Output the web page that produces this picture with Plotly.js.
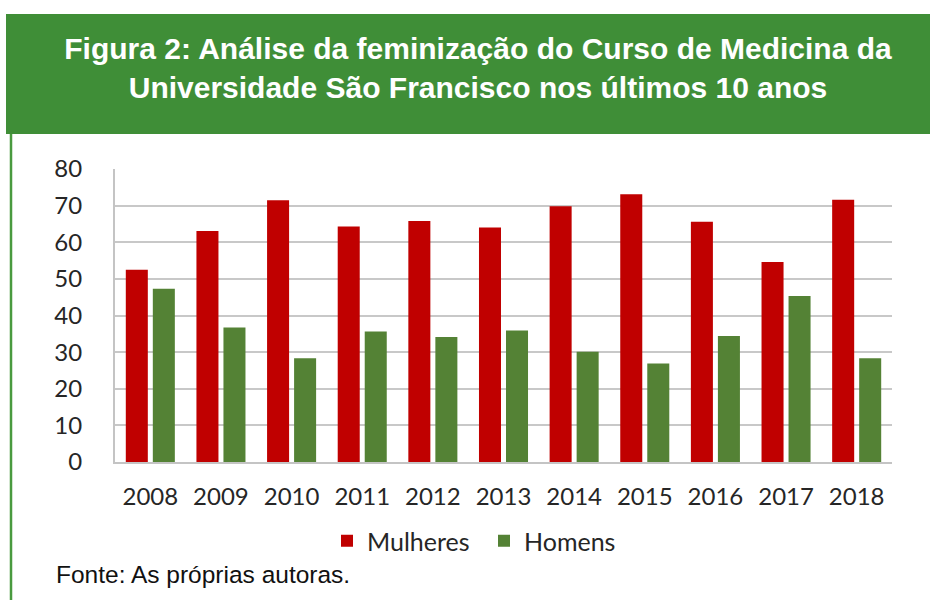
<!DOCTYPE html>
<html>
<head>
<meta charset="utf-8">
<script src="https://cdn.plot.ly/plotly-3.0.1.min.js"></script>
<style>
html,body{margin:0;padding:0;background:#fff;}
#chart{width:930px;height:600px;}
</style>
</head>
<body>
<div id="chart"></div>
<script>
const years = ['2008','2009','2010','2011','2012','2013','2014','2015','2016','2017','2018'];
const mulheres = [52.5, 63.1, 71.5, 64.3, 65.8, 64.0, 69.8, 73.1, 65.6, 54.6, 71.6];
const homens = [47.3, 36.7, 28.3, 35.6, 34.1, 35.9, 30.1, 26.9, 34.4, 45.3, 28.3];
const yTicks = [0, 10, 20, 30, 40, 50, 60, 70, 80];

const W = 930, Hh = 600;
const L = 115, R = 892, T = 169, B = 462;
const px = v => (v - L) / (R - L);
const py = v => (B - v) / (B - T);

const traces = [
  {type:'bar', name:'Mulheres', x:years, y:mulheres, marker:{color:'#c00000'}},
  {type:'bar', name:'Homens', x:years, y:homens, marker:{color:'#548235'}}
];

const layout = {
  width: W, height: Hh,
  margin: {l: L, r: W - R, t: T, b: Hh - B, pad: 0},
  paper_bgcolor: '#ffffff',
  plot_bgcolor: '#ffffff',
  barmode: 'group',
  bargap: 0.235,
  bargroupgap: 0.185,
  showlegend: true,
  title: {
    text: 'Figura 2: Análise da feminização do Curso de Medicina da<br>Universidade São Francisco nos últimos 10 anos',
    font: {family: 'Liberation Sans, Arial, sans-serif', size: 30, color: '#ffffff', weight: 'bold'},
    x: 478/W, xref: 'container', xanchor: 'center',
    y: 1 - 59/Hh, yref: 'container', yanchor: 'middle'
  },
  xaxis: {
    type: 'category',
    showgrid: false,
    showline: true, linecolor: '#c4c4c4', linewidth: 2,
    ticks: '', ticklabelstandoff: 12,
    tickfont: {family: 'Lato, Carlito, sans-serif', size: 24, color: '#262626'},
    fixedrange: true
  },
  yaxis: {
    range: [0, 80],
    tickvals: yTicks,
    ticktext: yTicks.map(String),
    showgrid: true, gridcolor: '#c8c8c8', gridwidth: 2,
    showline: true, linecolor: '#c4c4c4', linewidth: 2,
    zeroline: false,
    ticks: '', ticklabelstandoff: 26,
    tickfont: {family: 'Lato, Carlito, sans-serif', size: 24, color: '#262626'},
    fixedrange: true
  },
  legend: {
    orientation: 'h',
    x: px(484), xanchor: 'center',
    y: py(541), yanchor: 'middle',
    font: {family: 'Lato, Carlito, sans-serif', size: 25, color: '#262626'},
    entrywidth: 112, entrywidthmode: 'pixels',
    tracegroupgap: 0
  },
  shapes: [
    {type:'rect', xref:'paper', yref:'paper', x0: px(6), x1: px(930), y0: py(134), y1: py(14),
     fillcolor:'#3f8e37', line:{width:0}, layer:'below'},
    {type:'line', xref:'paper', yref:'paper', x0: px(11), x1: px(11), y0: py(134), y1: py(600),
     line:{color:'#4a9a3f', width:2.5}}
  ],
  annotations: [
    {text:'Fonte: As próprias autoras.', xref:'paper', yref:'paper',
     x: px(54), y: py(574), xanchor:'left', yanchor:'middle', showarrow:false,
     font:{family:'Liberation Sans, Arial, sans-serif', size:24.5, color:'#111111'}}
  ]
};

Plotly.newPlot('chart', traces, layout, {staticPlot: true, displayModeBar: false});
</script>
</body>
</html>
